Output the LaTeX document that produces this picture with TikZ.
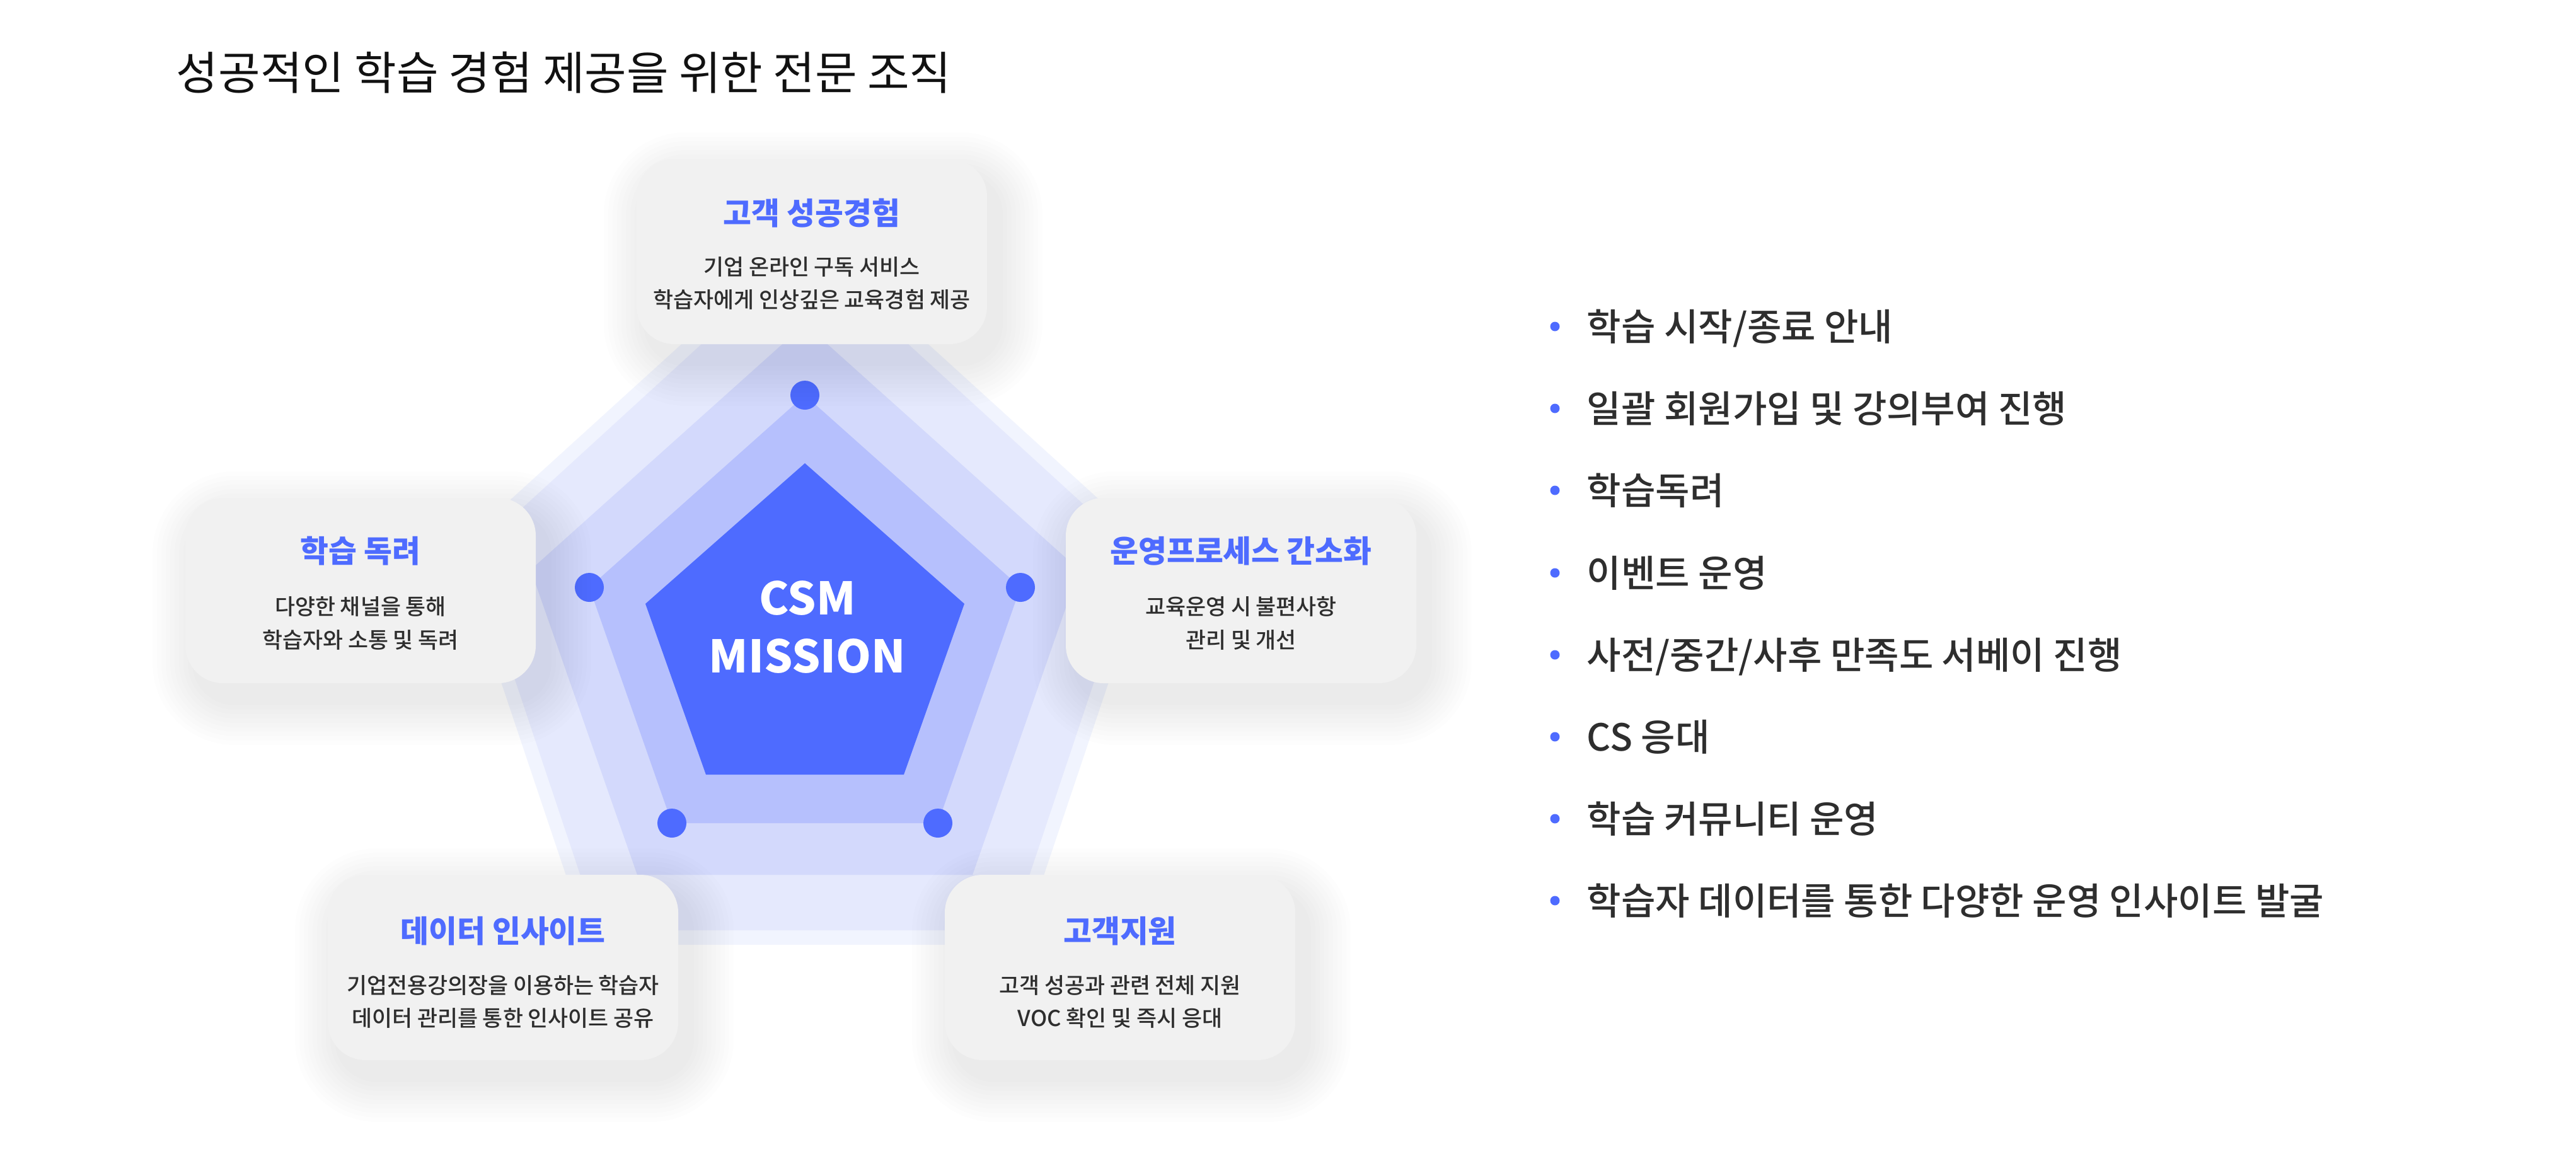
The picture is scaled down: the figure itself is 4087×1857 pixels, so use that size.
\documentclass[tikz,border=0pt]{standalone}
\usepackage{fontspec}
\newfontfamily\krr{Noto Sans CJK KR}
\newfontfamily\krm{Noto Sans CJK KR Medium}
\definecolor{csmblue}{HTML}{4E6BFF}
\definecolor{bandB}{HTML}{B6C0FD}
\definecolor{bandC}{HTML}{D3D9FC}
\definecolor{bandD}{HTML}{E5E9FD}
\definecolor{bandE}{HTML}{F1F4FE}
\definecolor{cardgray}{HTML}{F1F1F1}
\definecolor{bodytext}{HTML}{2E2E2E}
\definecolor{titletext}{HTML}{111111}
\tikzset{
  cardbox/.style={fill=cardgray, rounded corners=15pt, minimum width=139pt, minimum height=73.5pt, inner sep=0pt, draw=none},
  cardtitle/.style={anchor=base, inner sep=0pt, text=csmblue, font=\krr\bfseries\fontsize{12.2pt}{14pt}\selectfont},
  carddesc/.style={anchor=base, inner sep=0pt, text=bodytext, font=\krm\fontsize{8.7pt}{10pt}\selectfont},
  listitem/.style={anchor=base west, inner sep=0pt, text=bodytext, font=\krm\fontsize{14.8pt}{17pt}\selectfont},
  bulletdot/.style={circle, fill=csmblue, minimum size=3.75pt, inner sep=0pt},
  vertexdot/.style={circle, fill=csmblue, minimum size=11.5pt, inner sep=0pt},
  csmtext/.style={anchor=base, inner sep=0pt, text=white, font=\krr\bfseries\fontsize{17.8pt}{21pt}\selectfont}
}
\newcommand\cardshadow[2]{%
  \foreach \k in {1,...,10}{%
    \pgfmathsetmacro\rr{15+\k*1.75}%
    \fill[black, opacity=0.007, rounded corners=\rr pt]
      ({#1+18-278-\k*7},{#2+28-147-\k*7}) rectangle ({#1+18+278+\k*7},{#2+28+147+\k*7});
  }%
}
\begin{document}
\begin{tikzpicture}[x=0.25pt,y=-0.25pt]
\useasboundingbox (0,0) rectangle (4087,1857);
\fill[white] (0,0) rectangle (4087,1857);

% title
\node[anchor=base west, inner sep=0pt, text=titletext, font=\krr\fontsize{18.1pt}{21pt}\selectfont] (title) at (279,142) {성공적인 학습 경험 제공을 위한 전문 조직};

% pentagon bands
\fill[bandE] (1277,368) -- (1830,871) -- (1619,1499) -- (935,1499) -- (724,871) -- cycle;
\fill[bandD] (1277,396) -- (1804,878) -- (1604,1476) -- (950,1476) -- (750,878) -- cycle;
\fill[bandC] (1277,514) -- (1712,904) -- (1543,1388) -- (1011,1388) -- (842,904) -- cycle;
\fill[bandB] (1277,627) -- (1619,932) -- (1488,1306) -- (1066,1306) -- (935,932) -- cycle;
\fill[csmblue] (1277,735) -- (1530,958) -- (1434,1229) -- (1120,1229) -- (1024,958) -- cycle;

% vertex dots
\node[vertexdot] (vtop) at (1277,627) {};
\node[vertexdot] (vright) at (1619,932) {};
\node[vertexdot] (vbr) at (1488,1306) {};
\node[vertexdot] (vbl) at (1066,1306) {};
\node[vertexdot] (vleft) at (935,932) {};

% centre text
\node[csmtext] (csm1) at (1281,975) {CSM};
\node[csmtext] (csm2) at (1281,1067) {MISSION};

% card shadows
\cardshadow{1288}{399}
\cardshadow{572}{937}
\cardshadow{1969}{937}
\cardshadow{798}{1535}
\cardshadow{1777}{1535}

% cards
\node[cardbox] (ctop) at (1288,399) {};
\node[cardbox] (cleft) at (572,937) {};
\node[cardbox] (cright) at (1969,937) {};
\node[cardbox] (cbl) at (798,1535) {};
\node[cardbox] (cbr) at (1777,1535) {};

\node[cardtitle] (ttop) at (1288,356) {고객 성공경험};
\node[carddesc] (dtop1) at (1288,436) {기업 온라인 구독 서비스};
\node[carddesc] (dtop2) at (1288,488) {학습자에게 인상깊은 교육경험 제공};

\node[cardtitle] (tleft) at (572,892) {학습 독려};
\node[carddesc] (dleft1) at (572,975) {다양한 채널을 통해};
\node[carddesc] (dleft2) at (572,1028) {학습자와 소통 및 독려};

\node[cardtitle] (tright) at (1969,892) {운영프로세스 간소화};
\node[carddesc] (dright1) at (1969,975) {교육운영 시 불편사항};
\node[carddesc] (dright2) at (1969,1028) {관리 및 개선};

\node[cardtitle] (tbl) at (798,1495) {데이터 인사이트};
\node[carddesc] (dbl1) at (798,1576) {기업전용강의장을 이용하는 학습자};
\node[carddesc] (dbl2) at (798,1628) {데이터 관리를 통한 인사이트 공유};

\node[cardtitle] (tbr) at (1777,1495) {고객지원};
\node[carddesc] (dbr1) at (1777,1576) {고객 성공과 관련 전체 지원};
\node[carddesc] (dbr2) at (1777,1628) {VOC 확인 및 즉시 응대};

% list
\node[bulletdot] (b1) at (2467,518) {};
\node[bulletdot] (b2) at (2467,648) {};
\node[bulletdot] (b3) at (2467,778) {};
\node[bulletdot] (b4) at (2467,909) {};
\node[bulletdot] (b5) at (2467,1039) {};
\node[bulletdot] (b6) at (2467,1169) {};
\node[bulletdot] (b7) at (2467,1299) {};
\node[bulletdot] (b8) at (2467,1429) {};
\node[listitem] (l1) at (2517,540) {학습 시작/종료 안내};
\node[listitem] (l2) at (2517,670) {일괄 회원가입 및 강의부여 진행};
\node[listitem] (l3) at (2517,800) {학습독려};
\node[listitem] (l4) at (2517,931) {이벤트 운영};
\node[listitem] (l5) at (2517,1061) {사전/중간/사후 만족도 서베이 진행};
\node[listitem] (l6) at (2517,1191) {CS 응대};
\node[listitem] (l7) at (2517,1321) {학습 커뮤니티 운영};
\node[listitem] (l8) at (2517,1451) {학습자 데이터를 통한 다양한 운영 인사이트 발굴};
\end{tikzpicture}
\end{document}
